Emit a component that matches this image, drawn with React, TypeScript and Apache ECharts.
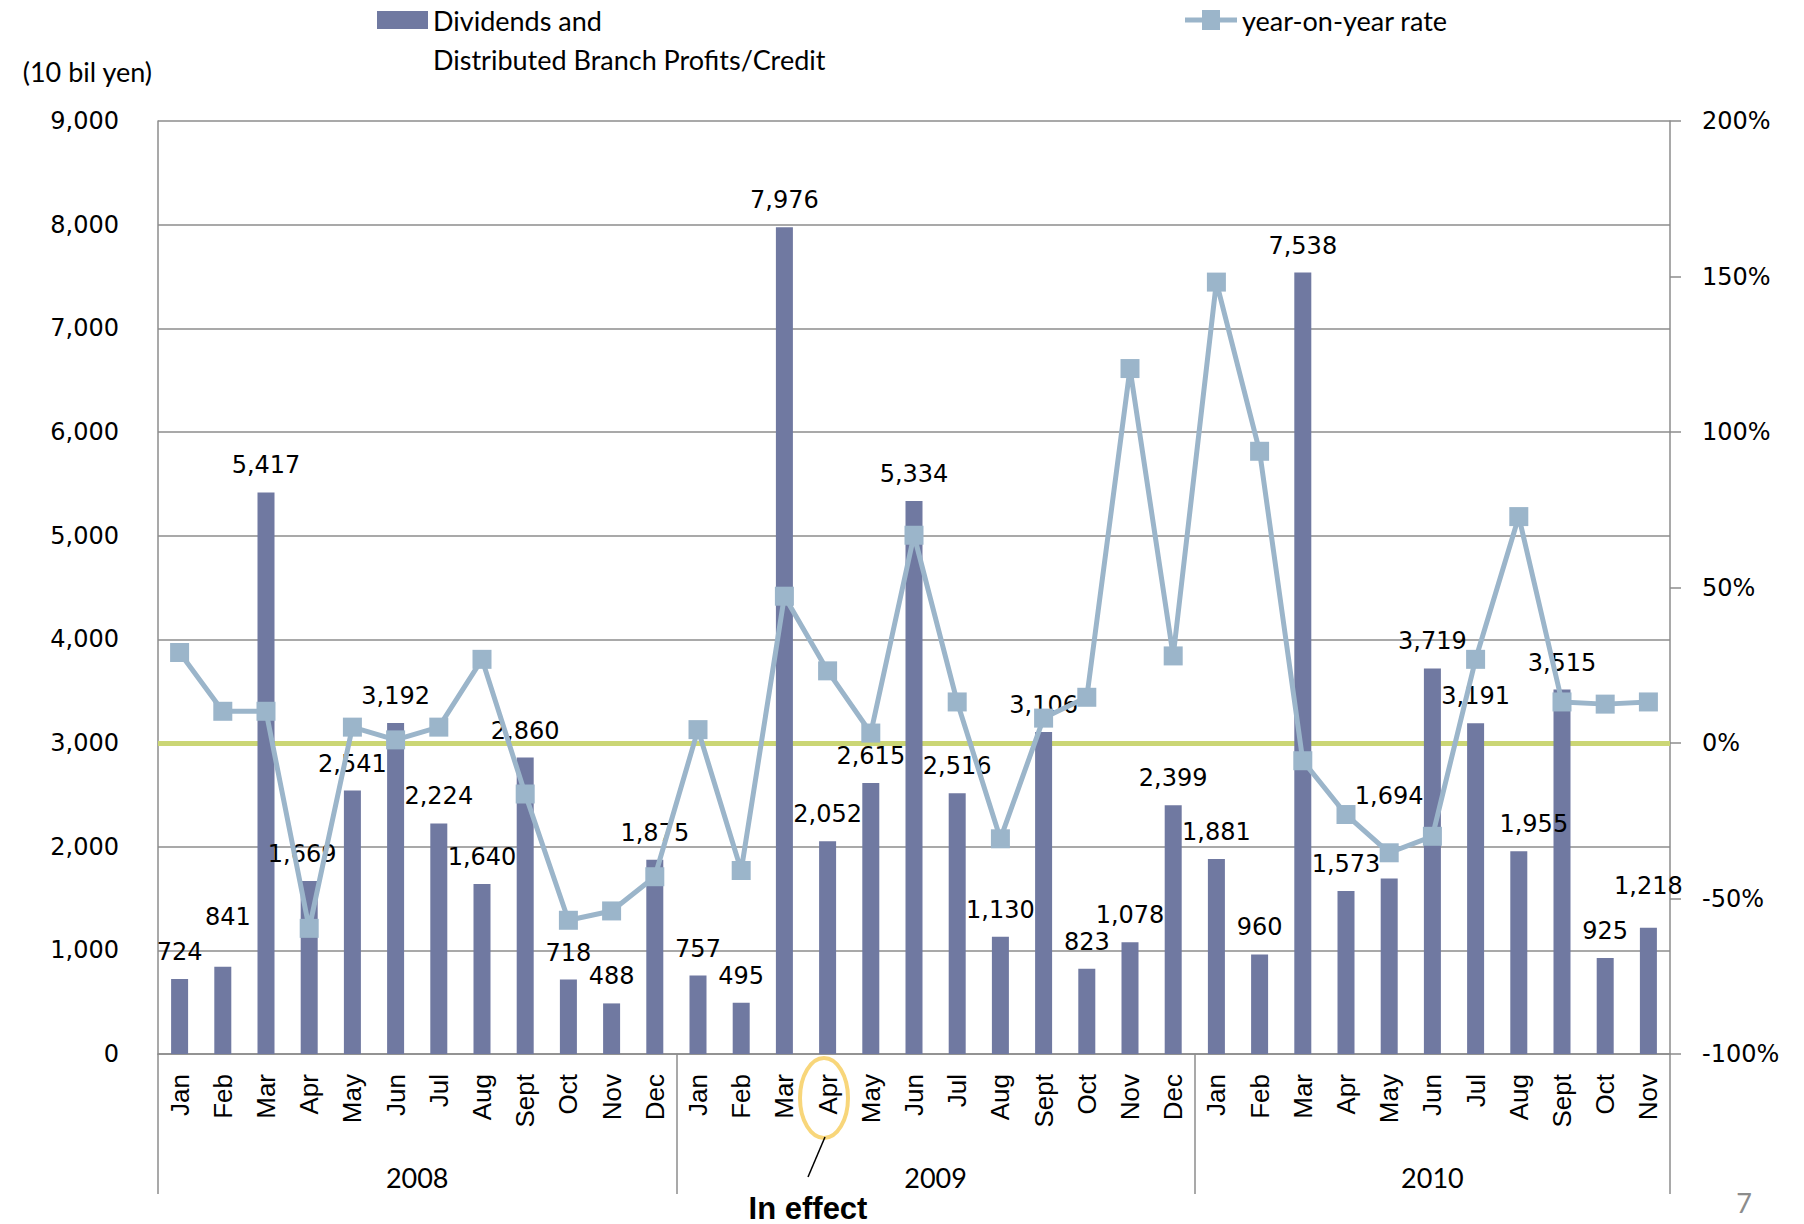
import React, { useEffect, useRef } from 'react';
import * as echarts from 'echarts';

// ---- data ----
const MONTHS_2008 = ['Jan', 'Feb', 'Mar', 'Apr', 'May', 'Jun', 'Jul', 'Aug', 'Sept', 'Oct', 'Nov', 'Dec'];
const MONTHS_2009 = ['Jan', 'Feb', 'Mar', 'Apr', 'May', 'Jun', 'Jul', 'Aug', 'Sept', 'Oct', 'Nov', 'Dec'];
const MONTHS_2010 = ['Jan', 'Feb', 'Mar', 'Apr', 'May', 'Jun', 'Jul', 'Aug', 'Sept', 'Oct', 'Nov'];
const YEARS = ['2008', '2009', '2010'];

const DIVIDENDS_2008 = [724, 841, 5417, 1669, 2541, 3192, 2224, 1640, 2860, 718, 488, 1875];
const DIVIDENDS_2009 = [757, 495, 7976, 2052, 2615, 5334, 2516, 1130, 3106, 823, 1078, 2399];
const DIVIDENDS_2010 = [1881, 960, 7538, 1573, 1694, 3719, 3191, 1955, 3515, 925, 1218];

const YOY_2008 = [29.1, 10.2, 10.2, -59.6, 5.1, 1.0, 5.1, 26.9, -16.4, -57.0, -54.0, -43.0];
const YOY_2009 = [4.3, -41.0, 47.2, 23.2, 3.2, 66.8, 13.2, -30.8, 8.0, 14.7, 120.4, 28.0];
const YOY_2010 = [148.2, 93.8, -5.7, -23.0, -35.3, -30.0, 26.9, 72.8, 13.2, 12.5, 13.2];

const LEFT_AXIS = { min: 0, max: 9000, interval: 1000 };
const RIGHT_AXIS = { min: -100, max: 200, interval: 50 };
const ZERO_RATE = 0;

const BAR_NAME = 'Dividends and\nDistributed Branch Profits/Credit';
const LINE_NAME = 'year-on-year rate';
const UNIT_LABEL = '(10 bil yen)';

// label nudges (index -> [dx, dy]) as placed in the original
const LABEL_NUDGES: Record<number, [number, number]> = {
  1: [5, -23],
  3: [-7, 0],
  28: [0, -55],
  31: [15, 0],
  34: [0, -15],
};

const MONTH_GROUPS = [MONTHS_2008, MONTHS_2009, MONTHS_2010];

const LINE_ICON = 'path://M0,7.5H17V0H35V7.5H52V12.5H35V20H17V12.5H0Z';

export default function App() {
  const ref = useRef<HTMLDivElement>(null);

  useEffect(() => {
    if (!ref.current) return;
    const chart = echarts.init(ref.current, undefined, { renderer: 'svg' });

    const categories: string[] = [];
    MONTH_GROUPS.forEach((months, gi) => months.forEach((m) => categories.push(m + ' ' + YEARS[gi])));
    const dividends = [...DIVIDENDS_2008, ...DIVIDENDS_2009, ...DIVIDENDS_2010];
    const yoy = [...YOY_2008, ...YOY_2009, ...YOY_2010];

    // half-band axis for the year group level
    const halfCount = categories.length * 2 + 1;
    const halfData = Array.from({ length: halfCount }, (_, i) => 'h' + i);
    const yearAt: Record<number, string> = {};
    const boundaries = new Set<number>([0]);
    let start = 0;
    MONTH_GROUPS.forEach((months, gi) => {
      yearAt[start * 2 + months.length] = YEARS[gi];
      start += months.length;
      boundaries.add(start * 2);
    });

    const fmt = (v: number) => v.toLocaleString('en-US');
    const grey = '#8c8c8c';

    const barData = dividends.map((v, i) => {
      const n = LABEL_NUDGES[i];
      return n ? { value: v, label: { offset: n } } : v;
    });

    chart.setOption({
      animation: false,
      textStyle: { fontFamily: 'DejaVu Sans' },
      grid: { left: 158, right: 134, top: 121, bottom: 170, containLabel: false },
      legend: [
        {
          data: [BAR_NAME],
          left: 377,
          top: -38.5,
          padding: 0,
          itemWidth: 51,
          itemHeight: 18,
          icon: 'rect',
          selectedMode: false,
          formatter: (name: string) => '\n' + name,
          textStyle: { fontFamily: 'Lato', fontSize: 27, lineHeight: 39, color: '#000' },
        },
        {
          data: [{ name: LINE_NAME, icon: LINE_ICON }],
          left: 1185,
          top: 0.5,
          padding: 0,
          itemWidth: 52,
          itemHeight: 20,
          selectedMode: false,
          textStyle: { fontFamily: 'Lato', fontSize: 27, lineHeight: 39, color: '#000' },
        },
      ],
      xAxis: [
        {
          type: 'category',
          data: categories,
          axisLine: { show: true, onZero: false, lineStyle: { color: grey, width: 1.5 } },
          axisTick: { show: false },
          axisLabel: {
            rotate: 90,
            interval: 0,
            margin: 20,
            fontFamily: 'Liberation Sans',
            fontSize: 26,
            color: '#000',
            formatter: (v: string) => v.split(' ')[0],
          },
        },
        {
          type: 'category',
          data: halfData,
          boundaryGap: false,
          position: 'bottom',
          axisLine: { show: false, onZero: false },
          axisTick: {
            show: true,
            length: 140,
            interval: (i: number) => boundaries.has(i),
            lineStyle: { color: grey, width: 1.5 },
          },
          axisLabel: {
            interval: 0,
            margin: 110,
            fontFamily: 'Lato',
            fontSize: 27,
            color: '#000',
            formatter: (_v: string, i: number) => yearAt[i] || '',
          },
          splitLine: { show: false },
        },
      ],
      yAxis: [
        {
          type: 'value',
          min: LEFT_AXIS.min,
          max: LEFT_AXIS.max,
          interval: LEFT_AXIS.interval,
          position: 'left',
          name: UNIT_LABEL,
          nameLocation: 'end',
          nameGap: 50,
          nameTextStyle: {
            fontFamily: 'Lato',
            fontSize: 27,
            color: '#000',
            align: 'right',
            verticalAlign: 'middle',
            padding: [0, 6, 0, 0],
          },
          axisLine: { show: true, lineStyle: { color: grey, width: 1.5 } },
          axisTick: { show: false },
          splitLine: { show: true, lineStyle: { color: grey, width: 1.5 } },
          axisLabel: { margin: 39, fontFamily: 'DejaVu Sans', fontSize: 24, color: '#000', formatter: fmt },
        },
        {
          type: 'value',
          min: RIGHT_AXIS.min,
          max: RIGHT_AXIS.max,
          interval: RIGHT_AXIS.interval,
          position: 'right',
          axisLine: { show: true, lineStyle: { color: grey, width: 1.5 } },
          axisTick: { show: true, inside: false, length: 11, lineStyle: { color: grey, width: 1.5 } },
          splitLine: { show: false },
          axisLabel: { margin: 32, fontFamily: 'DejaVu Sans', fontSize: 24, color: '#000', formatter: '{value}%' },
        },
      ],
      series: [
        {
          name: BAR_NAME,
          type: 'bar',
          xAxisIndex: 0,
          yAxisIndex: 0,
          barWidth: 17,
          data: barData,
          itemStyle: { color: '#7079a1' },
          label: {
            show: true,
            position: 'top',
            distance: 15,
            fontFamily: 'DejaVu Sans',
            fontSize: 24,
            color: '#000',
            formatter: (p: any) => fmt(p.value),
          },
          z: 4,
        },
        {
          name: LINE_NAME,
          type: 'line',
          xAxisIndex: 0,
          yAxisIndex: 1,
          data: yoy,
          symbol: 'rect',
          symbolSize: 19,
          lineStyle: { color: '#9bb5ca', width: 5 },
          itemStyle: { color: '#9bb5ca' },
          z: 5,
          markLine: {
            silent: true,
            symbol: ['none', 'none'],
            z: 3,
            label: { show: false },
            emphasis: { disabled: true },
            lineStyle: { color: '#cbd675', width: 5, type: 'solid' },
            data: [{ yAxis: ZERO_RATE }],
          },
        },
      ],
      graphic: [
        {
          type: 'ellipse',
          shape: { cx: 824, cy: 1098, rx: 24, ry: 40 },
          style: { fill: 'none', stroke: '#f8d67a', lineWidth: 4 },
          z: 10,
        },
        {
          type: 'line',
          shape: { x1: 825, y1: 1137, x2: 808, y2: 1177 },
          style: { stroke: '#000', lineWidth: 1.5 },
          z: 10,
        },
        {
          type: 'text',
          x: 808,
          y: 1208,
          style: {
            text: 'In effect',
            fontFamily: 'Liberation Sans',
            fontWeight: 'bold',
            fontSize: 31,
            fill: '#000',
            align: 'center',
            verticalAlign: 'middle',
          },
          z: 10,
        },
        {
          type: 'text',
          x: 1744,
          y: 1202,
          style: {
            text: '7',
            fontFamily: 'Lato',
            fontSize: 27,
            fill: '#8c8c8c',
            align: 'center',
            verticalAlign: 'middle',
          },
          z: 10,
        },
      ],
    });

    return () => chart.dispose();
  }, []);

  return (
    <div
      ref={ref}
      style={{ position: 'absolute', left: 0, top: 0, width: 1804, height: 1224, background: '#fff' }}
    />
  );
}
